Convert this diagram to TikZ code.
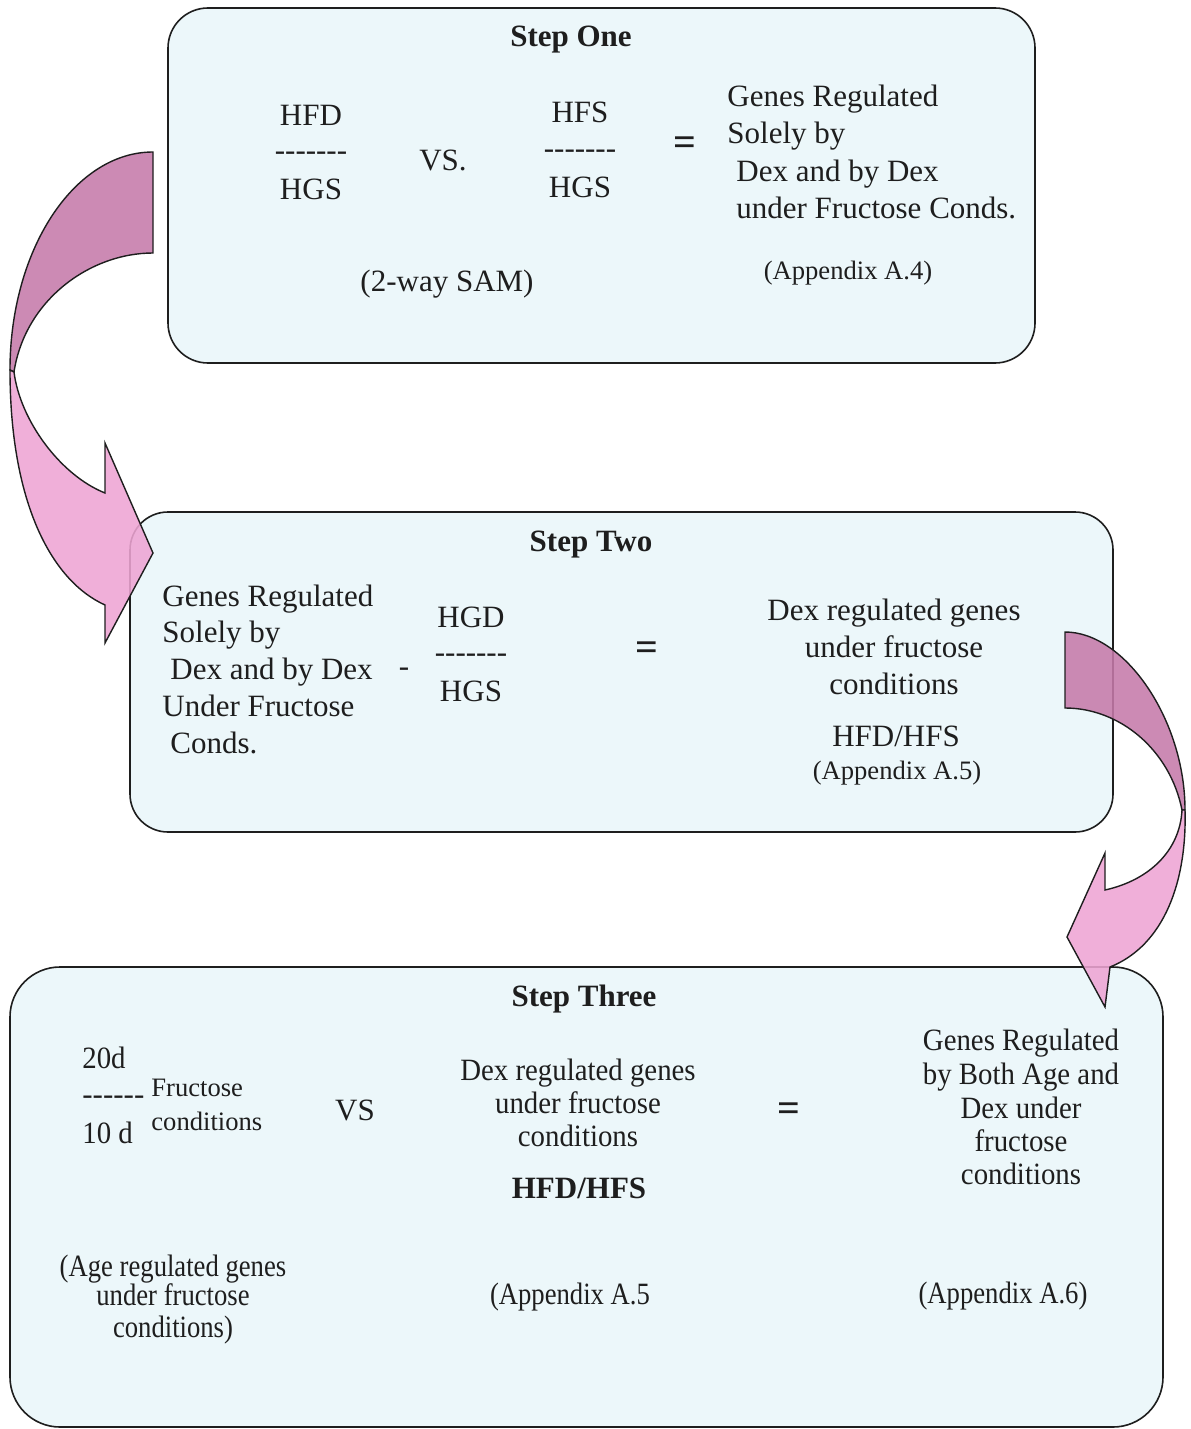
\documentclass[tikz,border=0pt]{standalone}
\usepackage{fontspec}
\setmainfont{Liberation Serif}[Ligatures=TeXOff]
\newfontfamily\condfont[FakeStretch=0.93,Ligatures=TeXOff]{Liberation Serif}
\newfontfamily\narrowfont[FakeStretch=0.86,Ligatures=TeXOff]{Liberation Serif}
\definecolor{boxfill}{RGB}{236,247,250}
\definecolor{arrdark}{RGB}{198,122,170}
\definecolor{arrlight}{RGB}{238,165,212}
\definecolor{inkc}{RGB}{30,30,30}
\tikzset{
  stepbox/.style={draw=inkc, line width=0.8pt, fill=boxfill},
  arrowpart/.style={draw=inkc, line width=0.7pt, fill opacity=0.88},
  txt/.style={inner sep=0pt, text=inkc, font=\fontsize{15.5}{18}\selectfont},
  ctxt/.style={inner sep=0pt, text=inkc, font=\fontsize{15.5}{18}\condfont},
  ntxt/.style={inner sep=0pt, text=inkc, font=\fontsize{15.5}{18}\narrowfont},
  ttl/.style={inner sep=0pt, text=inkc, font=\fontsize{15.5}{18}\selectfont\bfseries},
  smalltxt/.style={inner sep=0pt, text=inkc, font=\fontsize{13.3}{16}\selectfont},
  eqs/.style={inner sep=0pt, text=inkc, font=\fontsize{20}{20}\selectfont\bfseries},
}
\begin{document}
\begin{tikzpicture}[x=0.5pt,y=-0.5pt]
\useasboundingbox (0,0) rectangle (1190,1429);
\fill[white] (0,0) rectangle (1190,1429);

% boxes
\draw[stepbox, rounded corners=20pt] (168,8) rectangle (1035,363);
\draw[stepbox, rounded corners=19pt] (130,512) rectangle (1113,832);
\draw[stepbox, rounded corners=25pt] (10,967) rectangle (1163,1427);

% left curved arrow
\path[arrowpart, fill=arrdark] (153,152) .. controls (74,152) and (10,250) .. (10,370)
  -- (14,372) .. controls (25,300) and (90,253) .. (153,253) -- cycle;
\path[arrowpart, fill=arrlight] (10,370) .. controls (10,500) and (50,580) .. (105,605)
  -- (105,643) -- (153,553) -- (105,443) -- (105,493)
  .. controls (60,475) and (20,420) .. (14,372) -- cycle;

% right curved arrow
\path[arrowpart, fill=arrdark] (1065,632) .. controls (1125,632) and (1185,720) .. (1185,810)
  -- (1182,810) .. controls (1170,750) and (1120,708) .. (1065,708) -- cycle;
\path[arrowpart, fill=arrlight] (1185,810) .. controls (1187,880) and (1165,945) .. (1110,967)
  -- (1105,1007) -- (1067,937) -- (1105,853) -- (1105,890)
  .. controls (1150,880) and (1180,850) .. (1182,810) -- cycle;

% Step One
\node[ttl, anchor=base] (t1) at (571,47) {Step One};
\node[txt, anchor=base] (a1) at (311,126) {HFD};
\node[txt, anchor=base] (a2) at (311,161) {-------};
\node[txt, anchor=base] (a3) at (311,199) {HGS};
\node[txt, anchor=base] (vs1) at (443,170) {VS.};
\node[txt, anchor=base] (b1) at (580,123) {HFS};
\node[txt, anchor=base] (b2) at (580,158) {-------};
\node[txt, anchor=base] (b3) at (580,197) {HGS};
\node[eqs, anchor=center] (eq1) at (685,146) {=};
\node[txt, anchor=base west] (r1) at (727,107) {Genes Regulated};
\node[txt, anchor=base west] (r2) at (727,143) {Solely by};
\node[txt, anchor=base west] (r3) at (736,181) {Dex and by Dex};
\node[txt, anchor=base west] (r4) at (736,218) {under Fructose Conds.};
\node[smalltxt, anchor=base] (ap4) at (848,279) {(Appendix A.4)};
\node[txt, anchor=base] (sam) at (447,291) {(2-way SAM)};

% Step Two
\node[ttl, anchor=base] (t2) at (591,551) {Step Two};
\node[txt, anchor=base west] (l1) at (162,606) {Genes Regulated};
\node[txt, anchor=base west] (l2) at (162,642) {Solely by};
\node[txt, anchor=base west] (l3) at (170,679) {Dex and by Dex};
\node[txt, anchor=base west] (l4) at (162,716) {Under Fructose};
\node[txt, anchor=base west] (l5) at (170,753) {Conds.};
\node[txt, anchor=base] (minus) at (404,676) {-};
\node[txt, anchor=base] (c1) at (471,627) {HGD};
\node[txt, anchor=base] (c2) at (471,662) {-------};
\node[txt, anchor=base] (c3) at (471,701) {HGS};
\node[eqs, anchor=center] (eq2) at (647,651) {=};
\node[txt, anchor=base] (d1) at (894,620) {Dex regulated genes};
\node[txt, anchor=base] (d2) at (894,657) {under fructose};
\node[txt, anchor=base] (d3) at (894,694) {conditions};
\node[txt, anchor=base] (d4) at (896,746) {HFD/HFS};
\node[smalltxt, anchor=base] (ap5) at (897,779) {(Appendix A.5)};

% Step Three
\node[ttl, anchor=base] (t3) at (584,1006) {Step Three};
\node[ctxt, anchor=base west] (e1) at (82,1068) {20d};
\node[txt, anchor=base west] (e2) at (82,1104) {------};
\node[ctxt, anchor=base west] (e3) at (82,1143) {10 d};
\node[smalltxt, anchor=base west] (e4) at (151,1096) {Fructose};
\node[smalltxt, anchor=base west] (e5) at (151,1130) {conditions};
\node[txt, anchor=base] (vs3) at (355,1120) {VS};
\node[ctxt, anchor=base] (f1) at (578,1080) {Dex regulated genes};
\node[ctxt, anchor=base] (f2) at (578,1113) {under fructose};
\node[ctxt, anchor=base] (f3) at (578,1146) {conditions};
\node[ttl, anchor=base] (f4) at (579,1198) {HFD/HFS};
\node[eqs, anchor=center] (eq3) at (789,1112) {=};
\node[ctxt, anchor=base] (g1) at (1021,1050) {Genes Regulated};
\node[ctxt, anchor=base] (g2) at (1021,1084) {by Both Age and};
\node[ctxt, anchor=base] (g3) at (1021,1118) {Dex under};
\node[ctxt, anchor=base] (g4) at (1021,1151) {fructose};
\node[ctxt, anchor=base] (g5) at (1021,1184) {conditions};
\node[ntxt, anchor=base] (h1) at (173,1276) {(Age regulated genes};
\node[ntxt, anchor=base] (h2) at (173,1305) {under fructose};
\node[ntxt, anchor=base] (h3) at (173,1337) {conditions)};
\node[ntxt, anchor=base] (ap5b) at (570,1304) {(Appendix A.5};
\node[ntxt, anchor=base] (ap6) at (1003,1303) {(Appendix A.6)};
\end{tikzpicture}
\end{document}
